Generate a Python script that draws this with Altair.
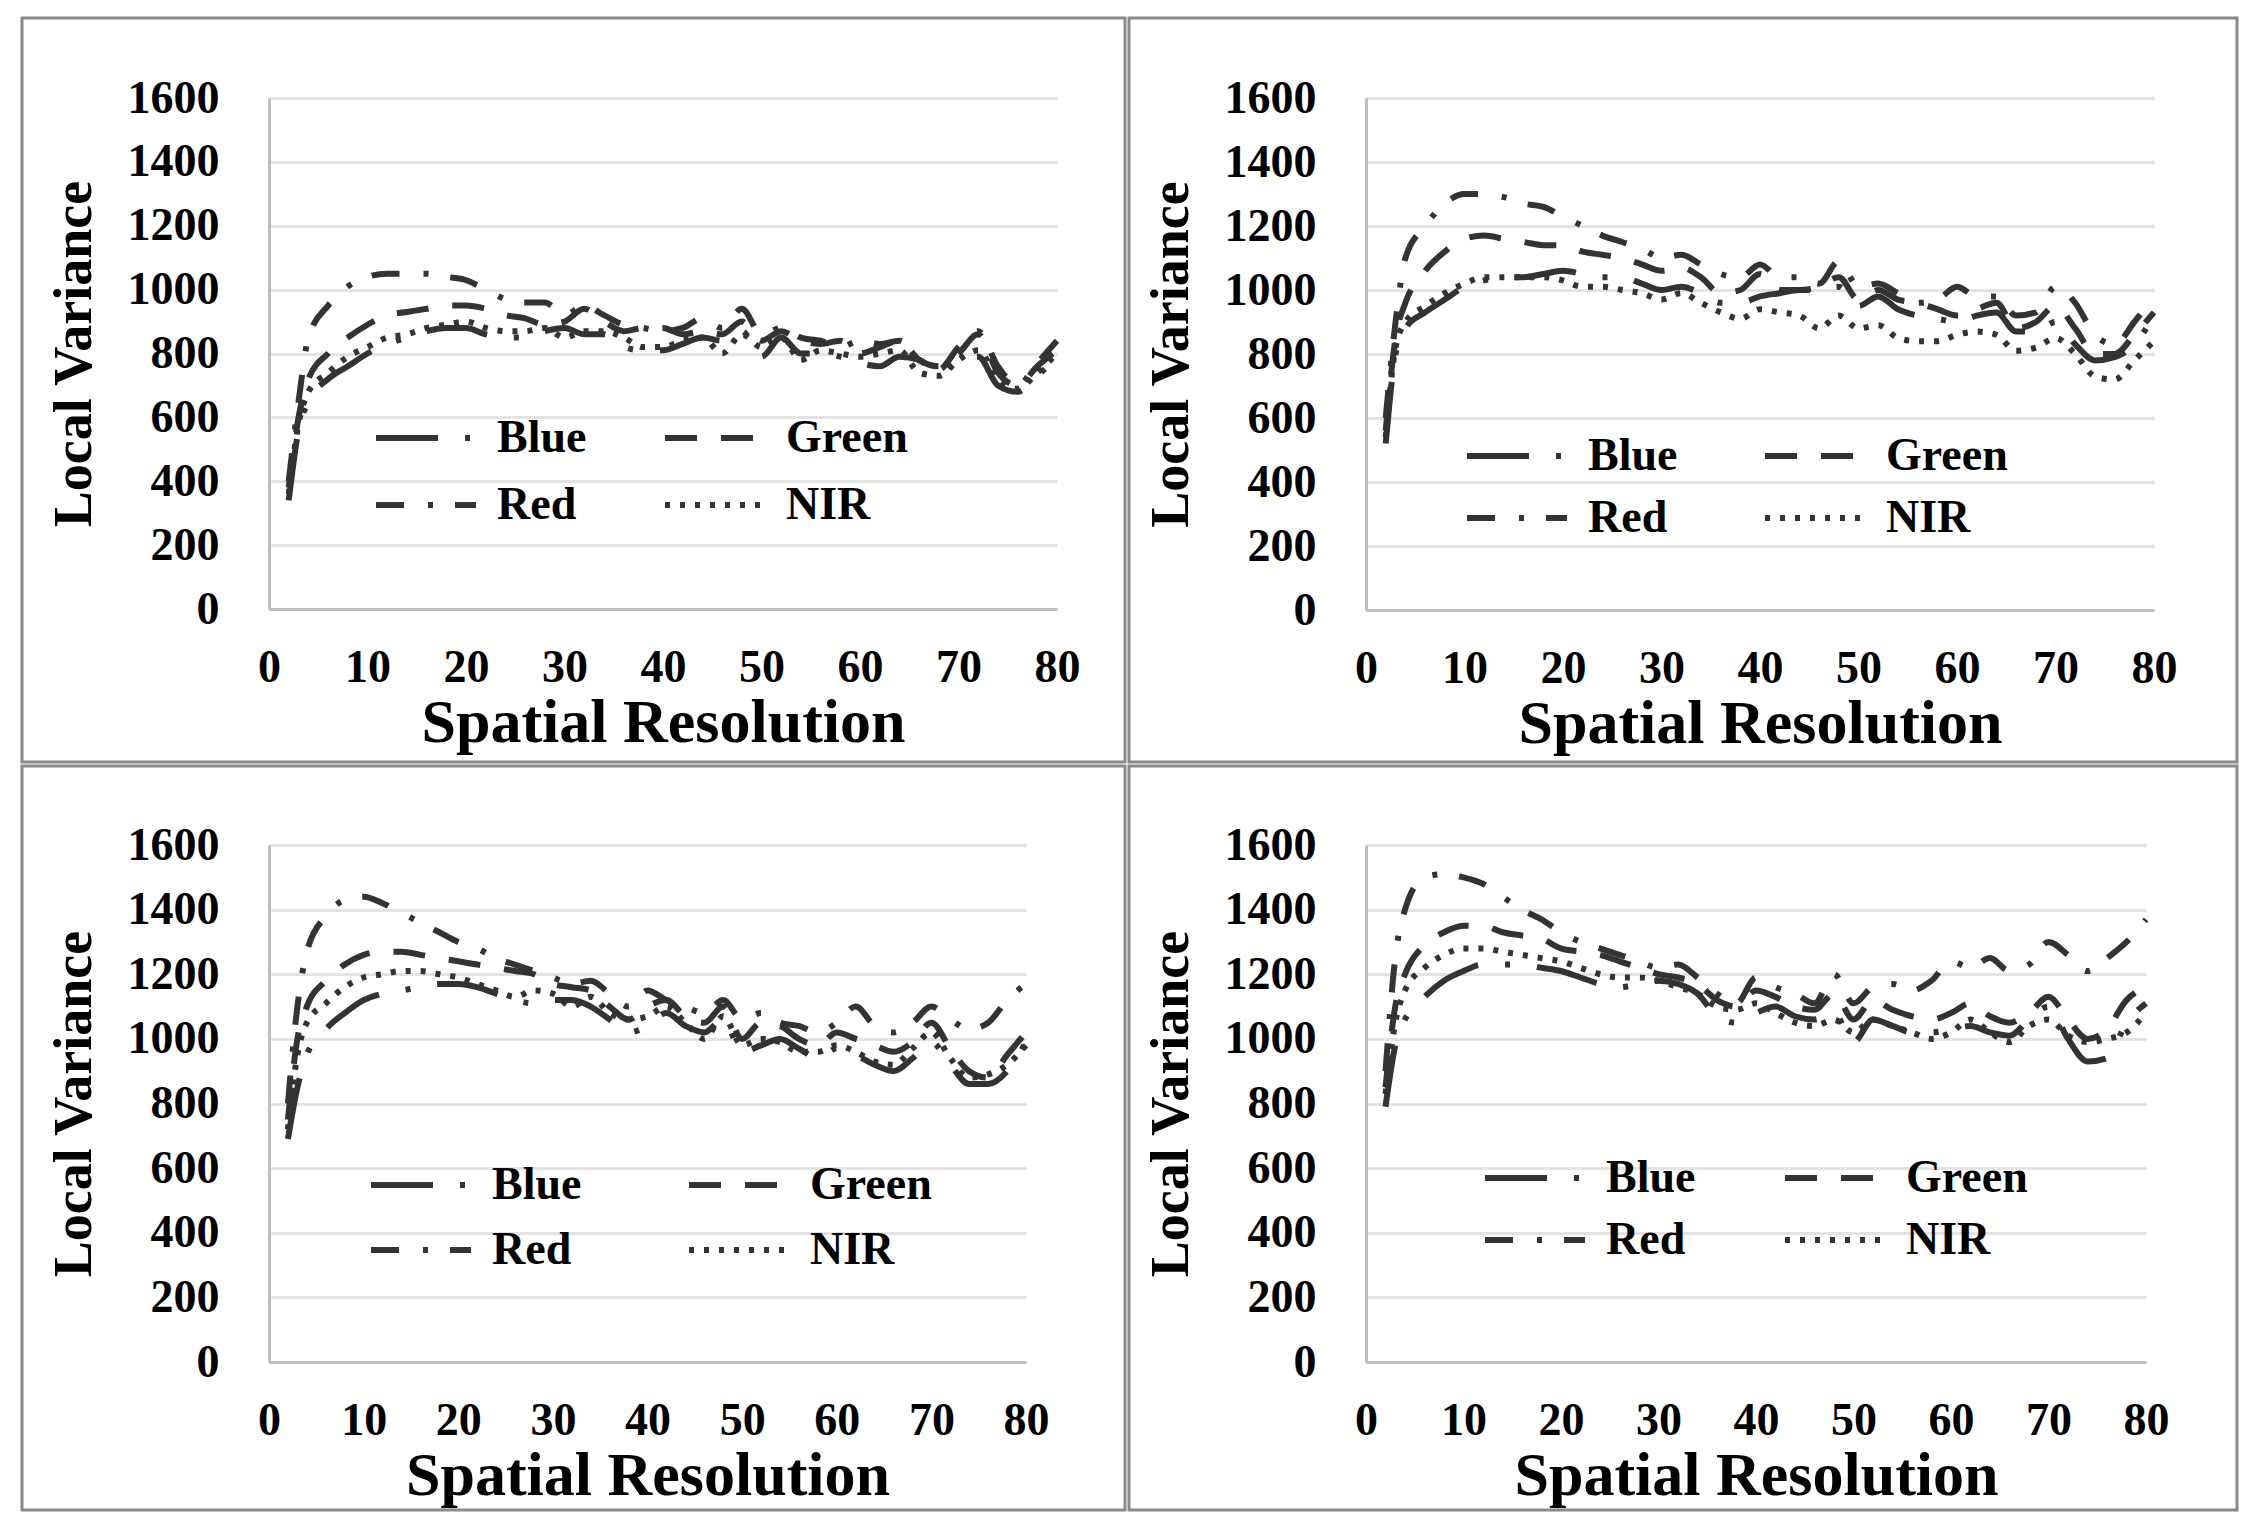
import altair as alt
import pandas as pd

resolution = [2, 3, 4, 6, 8, 10, 12, 14, 16, 18, 20, 22, 24, 26, 28, 30, 32, 34, 36, 38,
              40, 42, 44, 46, 48, 50, 52, 54, 56, 58, 60, 62, 64, 66, 68, 70, 72, 74, 76, 78, 80]
bands = ["Blue", "Green", "Red", "NIR"]
x_ticks = [0, 10, 20, 30, 40, 50, 60, 70, 80]
y_ticks = [0, 200, 400, 600, 800, 1000, 1200, 1400, 1600]

# top-left panel
a_blue = [340, 560, 650, 720, 760, 800, 830, 850, 870, 880, 880, 860, 850, 850, 870, 880, 860, 860, 820, 810,
          810, 830, 850, 840, 870, 790, 850, 800, 800, 790, 770, 760, 790, 780, 740, 780, 790, 700, 680, 730, 790]
a_green = [380, 600, 720, 800, 850, 890, 920, 930, 940, 950, 950, 940, 920, 910, 890, 900, 940, 900, 870, 880,
           880, 860, 870, 860, 900, 840, 870, 840, 830, 840, 800, 820, 840, 780, 760, 800, 860, 740, 700, 760, 810]
a_red = [400, 650, 850, 950, 1010, 1040, 1050, 1050, 1050, 1040, 1030, 1000, 970, 960, 960, 920, 950, 920, 890, 880,
         870, 880, 910, 880, 940, 860, 880, 850, 840, 820, 840, 830, 840, 780, 750, 820, 870, 760, 700, 770, 840]
a_nir = [360, 580, 680, 740, 790, 820, 850, 860, 880, 890, 900, 880, 870, 870, 880, 850, 870, 870, 850, 820,
         820, 840, 850, 800, 860, 820, 850, 780, 810, 800, 790, 800, 810, 740, 730, 780, 810, 720, 690, 740, 800]

# top-right panel
b_blue = [520, 800, 880, 930, 970, 1010, 1030, 1040, 1040, 1050, 1060, 1050, 1040, 1040, 1020, 1000, 1010, 990, 960, 960,
          980, 990, 1000, 1000, 1010, 950, 980, 940, 920, 910, 900, 920, 930, 870, 870, 900, 830, 780, 790, 830, 920]
b_green = [560, 850, 960, 1060, 1120, 1160, 1170, 1160, 1150, 1140, 1140, 1120, 1110, 1100, 1080, 1060, 1070, 1040, 990, 1000,
           1050, 1000, 1000, 1010, 1040, 970, 1000, 970, 960, 940, 920, 940, 960, 880, 900, 950, 880, 800, 800, 860, 930]
b_red = [600, 900, 1100, 1200, 1270, 1300, 1300, 1290, 1270, 1260, 1230, 1200, 1170, 1150, 1130, 1100, 1110, 1080, 1050, 1040,
         1080, 1040, 1040, 1020, 1090, 1010, 1020, 990, 960, 970, 1010, 980, 980, 920, 930, 1010, 960, 860, 830, 900, 980]
b_nir = [540, 820, 900, 950, 990, 1020, 1040, 1040, 1040, 1040, 1030, 1010, 1010, 1000, 990, 970, 990, 960, 930, 910,
         940, 930, 920, 880, 920, 880, 890, 850, 840, 840, 860, 870, 860, 810, 820, 850, 800, 730, 720, 780, 840]

# bottom-left panel
c_blue = [690, 850, 950, 1030, 1080, 1120, 1140, 1150, 1160, 1170, 1170, 1160, 1140, 1120, 1110, 1120, 1120, 1100, 1060, 1020,
          1040, 1080, 1040, 1020, 1060, 960, 980, 1000, 970, 940, 970, 950, 920, 900, 940, 990, 920, 860, 860, 900, 990]
c_green = [750, 1000, 1100, 1180, 1230, 1260, 1270, 1270, 1260, 1250, 1240, 1230, 1220, 1210, 1200, 1170, 1160, 1150, 1100, 1060,
           1100, 1120, 1070, 1050, 1100, 1000, 1050, 1040, 1000, 980, 1020, 1000, 980, 960, 990, 1050, 970, 900, 880, 950, 1020]
c_red = [800, 1100, 1270, 1380, 1430, 1440, 1420, 1390, 1360, 1330, 1300, 1280, 1250, 1230, 1210, 1190, 1170, 1180, 1140, 1100,
         1150, 1120, 1100, 1080, 1120, 1060, 1080, 1050, 1040, 1020, 1050, 1100, 1040, 1020, 1050, 1100, 1060, 1030, 1050, 1120, 1170]
c_nir = [720, 950, 1050, 1110, 1160, 1190, 1200, 1210, 1210, 1200, 1190, 1170, 1150, 1130, 1150, 1140, 1100, 1130, 1080, 1060,
         1070, 1100, 1050, 1000, 1070, 980, 1000, 990, 960, 960, 980, 960, 930, 920, 970, 1020, 940, 880, 890, 920, 980]

# bottom-right panel
d_blue = [790, 980, 1060, 1130, 1180, 1210, 1230, 1230, 1230, 1220, 1210, 1190, 1170, 1160, 1170, 1180, 1170, 1140, 1070, 1050,
          1080, 1100, 1070, 1060, 1080, 990, 1060, 1040, 1020, 1020, 1030, 1040, 1020, 1010, 1060, 1100, 1000, 930, 940, 1050, 1110]
d_green = [850, 1100, 1200, 1290, 1330, 1350, 1350, 1330, 1320, 1310, 1280, 1270, 1260, 1240, 1220, 1200, 1190, 1170, 1120, 1100,
           1150, 1130, 1100, 1090, 1140, 1060, 1120, 1090, 1070, 1060, 1080, 1110, 1070, 1050, 1080, 1130, 1060, 1000, 1030, 1120, 1160]
d_red = [900, 1250, 1400, 1500, 1510, 1500, 1480, 1440, 1400, 1370, 1330, 1300, 1280, 1260, 1240, 1220, 1230, 1190, 1140, 1110,
         1190, 1160, 1140, 1110, 1200, 1110, 1160, 1170, 1150, 1180, 1240, 1220, 1250, 1210, 1230, 1300, 1260, 1210, 1250, 1300, 1370]
d_nir = [830, 1050, 1150, 1220, 1260, 1280, 1280, 1270, 1260, 1250, 1240, 1220, 1200, 1190, 1190, 1180, 1160, 1140, 1100, 1090,
         1110, 1080, 1050, 1040, 1060, 1020, 1060, 1040, 1020, 1000, 1020, 1060, 1020, 990, 1040, 1060, 1010, 990, 1000, 1020, 1080]

panels = {
    "a": [a_blue, a_green, a_red, a_nir],
    "b": [b_blue, b_green, b_red, b_nir],
    "c": [c_blue, c_green, c_red, c_nir],
    "d": [d_blue, d_green, d_red, d_nir],
}

rows = []
for key, series in panels.items():
    for band, values in zip(bands, series):
        for r, v in zip(resolution, values):
            rows.append({"panel": key, "band": band, "res": r, "lv": v})
df = pd.DataFrame(rows)

FONT = "Liberation Serif"
INK = "#333333"
dashes = [[62, 27, 5, 27], [32, 24], [28, 24, 5, 22], [5, 10]]


def panel(key, w, h, left, right, top, bottom, lx, ly, colpad, rowpad):
    d = df[df["panel"] == key]
    lines = alt.Chart(d).mark_line(
        color=INK, strokeWidth=6, interpolate="monotone"
    ).encode(
        x=alt.X("res:Q", scale=alt.Scale(domain=[0, 80], nice=False),
                axis=alt.Axis(values=x_ticks, format="d", title="Spatial Resolution", grid=False, ticks=False,
                              labelFlush=False, labelPadding=36, titlePadding=2,
                              domainColor="#bdbdbd", domainWidth=3,
                              labelFontSize=46, titleFontSize=62)),
        y=alt.Y("lv:Q", scale=alt.Scale(domain=[0, 1600], nice=False),
                axis=alt.Axis(values=y_ticks, format="d", title="Local Variance", ticks=False,
                              labelPadding=50, titlePadding=26,
                              domainColor="#bdbdbd", domainWidth=3,
                              gridColor="#e3e3e3", gridWidth=3,
                              labelFontSize=46, titleFontSize=54)),
        strokeDash=alt.StrokeDash(
            "band:N", sort=bands,
            scale=alt.Scale(domain=bands, range=dashes),
            legend=alt.Legend(title=None, orient="none", legendX=lx, legendY=ly, columns=2,
                              direction="horizontal", clipHeight=50,
                              symbolType="stroke", symbolSize=10000, symbolStrokeWidth=6,
                              symbolStrokeColor=INK, labelFontSize=46, labelFont=FONT,
                              labelFontWeight="bold", labelColor="black", labelOffset=18,
                              columnPadding=colpad, rowPadding=rowpad, labelLimit=400),
        ),
    )
    frame = alt.Chart(pd.DataFrame({"k": [0]})).mark_rect(
        filled=False, stroke="#8a8a8a", strokeWidth=3
    ).encode(
        x=alt.value(-left), x2=alt.value(w + right),
        y=alt.value(-top), y2=alt.value(h + bottom),
    )
    return alt.layer(frame, lines).properties(width=w, height=h).resolve_scale(strokeDash="independent")


top_row = alt.hconcat(
    panel("a", 788, 511, 247, 68, 80, 153, 104, 315, 75, 17),
    panel("b", 788, 512, 237, 83, 80, 152, 98, 333, 84, 12),
    spacing=0,
).resolve_scale(strokeDash="independent").resolve_legend(strokeDash="independent")
bottom_row = alt.hconcat(
    panel("c", 757, 517, 247, 99, 79, 148, 99, 315, 104, 15),
    panel("d", 780, 517, 237, 91, 79, 148, 116, 308, 86, 12),
    spacing=0,
).resolve_scale(strokeDash="independent").resolve_legend(strokeDash="independent")

chart = alt.vconcat(top_row, bottom_row, spacing=0).resolve_scale(
    strokeDash="independent"
).resolve_legend(
    strokeDash="independent"
).properties(
    padding={"left": 12, "top": 8, "right": 0, "bottom": 0}
).configure_axis(
    labelFont=FONT, titleFont=FONT, labelFontWeight="bold", titleFontWeight="bold",
    labelColor="black", titleColor="black"
).configure_view(
    strokeWidth=0
)

chart.save("out.html", embed_options={"renderer": "svg", "actions": False})
